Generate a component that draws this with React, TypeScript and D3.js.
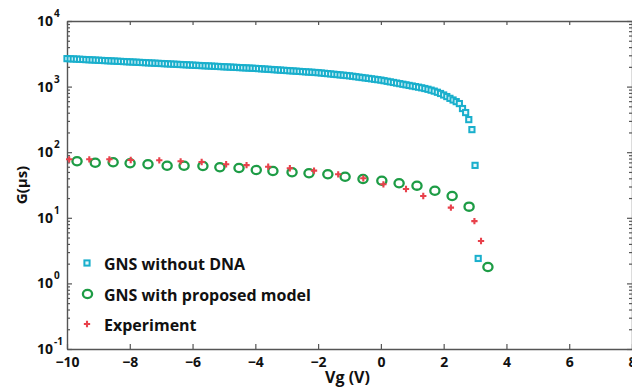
import React, { useEffect, useRef } from "react";
import * as d3 from "d3";

const width = 632;
const height = 387;
const marginTop = 21;
const marginBottom = 38;
const marginLeft = 67;
const marginRight = 0;
const font = "'Open Sans', 'Liberation Sans', sans-serif";

const xTicks = [-10, -8, -6, -4, -2, 0, 2, 4, 6, 8];
const yExponents = [-1, 0, 1, 2, 3, 4];

// GNS without DNA, sampled every 0.1 V from -10 V to 3.1 V
const blueG = [
  2670, 2655, 2640, 2625, 2610, 2595, 2580, 2565, 2550, 2535,
  2520, 2506, 2492, 2478, 2464, 2450, 2436, 2422, 2408, 2394,
  2381, 2367, 2354, 2340, 2327, 2314, 2300, 2287, 2274, 2261,
  2248, 2235, 2222, 2210, 2197, 2185, 2172, 2160, 2148, 2136,
  2123, 2111, 2099, 2087, 2075, 2064, 2052, 2040, 2029, 2017,
  2005, 1994, 1982, 1971, 1960, 1949, 1938, 1927, 1916, 1905,
  1894, 1880, 1866, 1852, 1838, 1824, 1811, 1797, 1784, 1770,
  1757, 1744, 1731, 1718, 1705, 1692, 1680, 1667, 1655, 1642,
  1630, 1612, 1594, 1577, 1560, 1542, 1525, 1508, 1492, 1475,
  1459, 1437, 1416, 1395, 1374, 1354, 1334, 1314, 1294, 1275,
  1256, 1230, 1205, 1180, 1156, 1132, 1109, 1086, 1064, 1042,
  1021, 1000, 980, 958, 935, 910, 882, 853, 820, 785,
  745, 705, 662, 625, 590, 551, 463, 402, 314, 221,
  63, 2.4,
];
const blueVg = d3.range(blueG.length).map((i) => -10 + i / 10);

// GNS with proposed model
const greenVg = [
  -9.68, -9.1, -8.53, -7.99, -7.42, -6.81, -6.27, -5.67, -5.13, -4.52, -3.97, -3.44,
  -2.83, -2.29, -1.69, -1.14, -0.57, 0.03, 0.58, 1.15, 1.72, 2.27, 2.81, 3.41,
];
const greenG = [
  72.7, 69.2, 70.2, 67.7, 65.4, 62.3, 62.3, 61.6, 58.9, 57.5, 53.5, 51.7,
  49.4, 47.7, 46.0, 42.3, 39.0, 36.8, 33.6, 30.9, 25.9, 21.5, 14.8, 1.78,
];

// Experiment
const redVg = [
  -9.93, -9.29, -8.65, -7.97, -7.06, -6.38, -5.71, -4.93, -4.28, -3.59,
  -2.9, -2.13, -1.36, -0.56, 0.08, 0.8, 1.35, 2.23, 2.98, 3.19,
];
const redG = [
  77.9, 77.9, 77.9, 76.0, 75.3, 72.7, 70.9, 65.5, 63.5, 60.1,
  56.9, 52.3, 46.0, 40.0, 32.4, 27.5, 21.5, 14.3, 8.9, 4.43,
];

const legendItems = ["GNS without DNA", "GNS with proposed model", "Experiment"];

const blue = "#19afcc";
const green = "#1d9c45";
const red = "#e8414b";
const axisColor = "#555";

const App = () => {
  const svgRef = useRef<SVGSVGElement>(null);

  useEffect(() => {
    const svg = d3.select(svgRef.current);
    svg.selectAll("*").remove();

    const xScale = d3
      .scaleLinear()
      .domain([-10, 8])
      .range([marginLeft, width - marginRight]);
    const yScale = d3
      .scaleLog()
      .domain([0.1, 10000])
      .range([height - marginBottom, marginTop]);

    const majors = yExponents.map((e) => Math.pow(10, e));
    const minors: number[] = [];
    yExponents.slice(0, -1).forEach((e) => {
      for (let k = 2; k <= 9; k++) minors.push(k * Math.pow(10, e));
    });

    const styleAxis = (g: any) => {
      g.selectAll("path").attr("stroke", axisColor).attr("stroke-width", 1.4);
      g.selectAll("line").attr("stroke", axisColor).attr("stroke-width", 1.2);
    };

    // bottom axis
    svg
      .append("g")
      .attr("transform", `translate(0,${height - marginBottom})`)
      .call(
        d3.axisBottom(xScale).tickValues(xTicks).tickSize(-5).tickSizeOuter(0).tickPadding(8)
      )
      .call(styleAxis)
      .call((g) =>
        g
          .selectAll("text")
          .attr("font-family", font)
          .attr("font-weight", 700)
          .attr("font-size", 14)
          .attr("fill", "#111")
      );

    // top axis
    svg
      .append("g")
      .attr("transform", `translate(0,${marginTop})`)
      .call(d3.axisTop(xScale).tickValues(xTicks).tickSize(-4).tickSizeOuter(0).tickFormat(() => ""))
      .call(styleAxis);

    // left axis
    svg
      .append("g")
      .attr("transform", `translate(${marginLeft},0)`)
      .call(d3.axisLeft(yScale).tickValues(majors).tickSize(-5).tickSizeOuter(0).tickFormat(() => ""))
      .call(styleAxis);
    svg
      .append("g")
      .attr("transform", `translate(${marginLeft},0)`)
      .call(d3.axisLeft(yScale).tickValues(minors).tickSize(-3).tickSizeOuter(0).tickFormat(() => ""))
      .call(styleAxis)
      .call((g) => g.select(".domain").remove());

    // right axis
    svg
      .append("g")
      .attr("transform", `translate(${width - marginRight},0)`)
      .call(d3.axisRight(yScale).tickValues(majors).tickSize(-5).tickSizeOuter(0).tickFormat(() => ""))
      .call(styleAxis);
    svg
      .append("g")
      .attr("transform", `translate(${width - marginRight},0)`)
      .call(d3.axisRight(yScale).tickValues(minors).tickSize(-3).tickSizeOuter(0).tickFormat(() => ""))
      .call(styleAxis)
      .call((g) => g.select(".domain").remove());

    // y tick labels, 10^n
    const yLabels = svg
      .append("g")
      .selectAll("text")
      .data(yExponents)
      .join("text")
      .attr("x", 37)
      .attr("y", (d) => yScale(Math.pow(10, d)) + 5)
      .attr("font-family", font)
      .attr("font-weight", 700)
      .attr("font-size", 14)
      .attr("fill", "#111");
    yLabels.append("tspan").text("10");
    yLabels
      .append("tspan")
      .attr("dx", 1)
      .attr("dy", -9)
      .attr("font-size", 10)
      .text((d) => String(d));

    // axis titles
    svg
      .append("text")
      .attr("x", (marginLeft + width - marginRight) / 2 - 2)
      .attr("y", 383)
      .attr("text-anchor", "middle")
      .attr("font-family", font)
      .attr("font-weight", 700)
      .attr("font-size", 16)
      .attr("fill", "#111")
      .text("Vg (V)");
    svg
      .append("text")
      .attr("transform", `translate(27,${(marginTop + height - marginBottom) / 2}) rotate(-90)`)
      .attr("text-anchor", "middle")
      .attr("font-family", font)
      .attr("font-weight", 700)
      .attr("font-size", 15)
      .attr("fill", "#111")
      .text("G(μs)");

    // GNS without DNA
    svg
      .append("g")
      .selectAll("rect")
      .data(blueG)
      .join("rect")
      .attr("x", (d, i) => xScale(blueVg[i]) - 2.6)
      .attr("y", (d) => yScale(d) - 2.6)
      .attr("width", 5.2)
      .attr("height", 5.2)
      .attr("fill", "#e6f7fb")
      .attr("stroke", blue)
      .attr("stroke-width", 2);

    // GNS with proposed model
    svg
      .append("g")
      .selectAll("ellipse")
      .data(greenG)
      .join("ellipse")
      .attr("cx", (d, i) => xScale(greenVg[i]))
      .attr("cy", (d) => yScale(d))
      .attr("rx", 4.6)
      .attr("ry", 4.1)
      .attr("fill", "none")
      .attr("stroke", green)
      .attr("stroke-width", 2.3);

    // Experiment
    const star = d3.symbol(d3.symbolCross, 22);
    svg
      .append("g")
      .selectAll("path")
      .data(redG)
      .join("path")
      .attr("transform", (d, i) => `translate(${xScale(redVg[i])},${yScale(d)})`)
      .attr("d", star)
      .attr("fill", red);

    // legend
    const legend = svg.append("g");
    const rowY = [263, 294, 324];
    legend
      .append("rect")
      .attr("x", 87 - 2.6)
      .attr("y", rowY[0] - 2.6)
      .attr("width", 5.2)
      .attr("height", 5.2)
      .attr("fill", "#e6f7fb")
      .attr("stroke", blue)
      .attr("stroke-width", 2);
    legend
      .append("ellipse")
      .attr("cx", 87.5)
      .attr("cy", rowY[1])
      .attr("rx", 4.6)
      .attr("ry", 4.1)
      .attr("fill", "none")
      .attr("stroke", green)
      .attr("stroke-width", 2.3);
    legend
      .append("path")
      .attr("transform", `translate(87,${rowY[2]})`)
      .attr("d", star)
      .attr("fill", red);
    legend
      .selectAll("text")
      .data(legendItems)
      .join("text")
      .attr("x", 104)
      .attr("y", (d, i) => rowY[i] + 7)
      .attr("font-family", font)
      .attr("font-weight", 700)
      .attr("font-size", 16)
      .attr("fill", "#111")
      .text((d) => d);
  }, []);

  return (
    <svg
      ref={svgRef}
      width={width}
      height={height}
      style={{ position: "absolute", left: 0, top: 0, background: "#fff", display: "block" }}
    />
  );
};

export default App;
